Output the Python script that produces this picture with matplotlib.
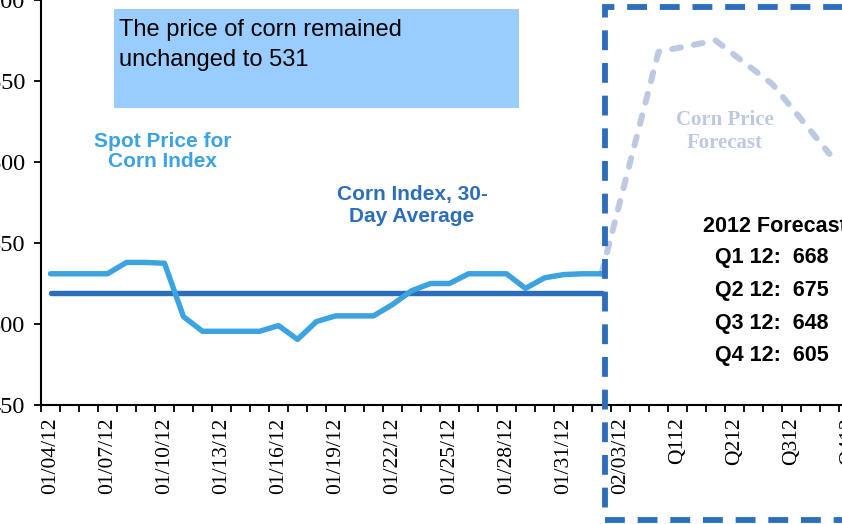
import matplotlib
matplotlib.use("Agg")
import matplotlib.pyplot as plt
from matplotlib.patches import Rectangle
from matplotlib.ticker import FixedLocator

# categories (one per day, then forecast slots)
cats = ["01/04/12", "01/05/12", "01/06/12", "01/07/12", "01/08/12", "01/09/12",
        "01/10/12", "01/11/12", "01/12/12", "01/13/12", "01/14/12", "01/15/12",
        "01/16/12", "01/17/12", "01/18/12", "01/19/12", "01/20/12", "01/21/12",
        "01/22/12", "01/23/12", "01/24/12", "01/25/12", "01/26/12", "01/27/12",
        "01/28/12", "01/29/12", "01/30/12", "01/31/12", "02/01/12", "02/02/12",
        "02/03/12", "", "", "Q112", "", "", "Q212", "", "", "Q312", "", "", "Q412",
        "", ""]

spot = [531, 531, 531, 531, 538, 538, 537.5, 504.5, 495.5, 495.5, 495.5, 495.5,
        499, 490.5, 501.5, 505, 505, 505, 512, 520.5, 525, 525, 531, 531, 531,
        522, 528.5, 530.5, 531, 531]
avg30 = [519] * 30

fc_idx = [29, 32, 35, 38, 41]
forecast = [531, 668, 675, 648, 605]

fc_lines = ["Q1 12:  668", "Q2 12:  675", "Q3 12:  648", "Q4 12:  605"]

W, H = 842, 524
fig = plt.figure(figsize=(W / 100, H / 100), dpi=100)
ax = fig.add_axes([41 / W, 119 / H, (900 - 41) / W, 405 / H])

serif = "Liberation Serif"
sans = "Liberation Sans"

x_spot = list(range(len(spot)))
ax.plot(x_spot, avg30, color="#2C6EBB", lw=3.9, solid_capstyle="round", zorder=3)
ax.plot(x_spot, spot, color="#3BA3E0", lw=3.9, solid_capstyle="round",
        solid_joinstyle="round", zorder=4)
ax.plot(fc_idx, forecast, color="#BDC9E2", lw=4.3, dashes=(1.5, 2.2),
        dash_capstyle="round", zorder=2)

ax.set_ylim(450, 700)
ax.set_xlim(-0.5, -0.5 + 859 / 19)
ax.set_yticks([450, 500, 550, 600, 650, 700])
ax.set_yticklabels(["450", "500", "550", "600", "650", "700"])
major = list(range(0, len(cats), 3))
ax.xaxis.set_major_locator(FixedLocator(major))
ax.set_xticklabels([cats[i] for i in major], rotation=90)
ax.xaxis.set_minor_locator(FixedLocator([k - 0.5 for k in range(len(cats) + 1)]))
ax.tick_params(axis="x", which="major", length=0, pad=9)
ax.tick_params(axis="x", which="minor", length=5, width=1.3, direction="out")
ax.tick_params(axis="y", length=5, width=1.3, pad=6.5)
for lab in ax.get_xticklabels():
    lab.set_fontfamily(serif)
    lab.set_fontsize(15.5)
    lab.set_va("top")
for lab in ax.get_yticklabels():
    lab.set_fontfamily(serif)
    lab.set_fontsize(17.5)
    lab.set_va("center_baseline")

for s in ["top", "right"]:
    ax.spines[s].set_visible(False)
for s in ["left", "bottom"]:
    ax.spines[s].set_linewidth(1.5)

# note box
fig.add_artist(Rectangle((114 / W, 1 - 108.5 / H), (519 - 114) / W, (108.5 - 9) / H,
                         transform=fig.transFigure, facecolor="#99CCFF",
                         edgecolor="none", zorder=5))
fig.text(119 / W, 1 - 30 / H, "The price of corn remained", fontsize=17,
         family=sans, va="center", ha="left", zorder=6)
fig.text(119 / W, 1 - 60 / H, "unchanged to 531", fontsize=17,
         family=sans, va="center", ha="left", zorder=6)

# series labels
fig.text(162.5 / W, 1 - 151.5 / H, "Spot Price for\nCorn Index", fontsize=15,
         family=sans, weight="bold", color="#3BA3E0", ha="center", va="center",
         linespacing=1.1)
fig.text(412 / W, 1 - 205.5 / H, "Corn Index, 30-\nDay Average", fontsize=15,
         family=sans, weight="bold", color="#2C6EBB", ha="center", va="center",
         linespacing=1.15)
fig.text(724.5 / W, 1 - 131.5 / H, "Corn Price\nForecast", fontsize=15,
         family=serif, weight="bold", color="#BDC9E2", ha="center", va="center",
         linespacing=1.15)

fig.text(775 / W, 1 - 226 / H, "2012 Forecast", fontsize=15.5, family=sans,
         weight="bold", ha="center", va="center")
for k, line in enumerate(fc_lines):
    fig.text(772 / W, 1 - (258 + 32.5 * k) / H, line, fontsize=15.5, family=sans,
             weight="bold", ha="center", va="center")

# dashed forecast frame
fig.add_artist(Rectangle((605 / W, 4 / H), (950 - 605) / W, (517 - 4) / H,
                         transform=fig.transFigure, facecolor="none",
                         edgecolor="#2C6EBB", lw=4.2, linestyle=(0, (3.4, 2.2)),
                         zorder=10))

fig.savefig("out.png", dpi=100)
